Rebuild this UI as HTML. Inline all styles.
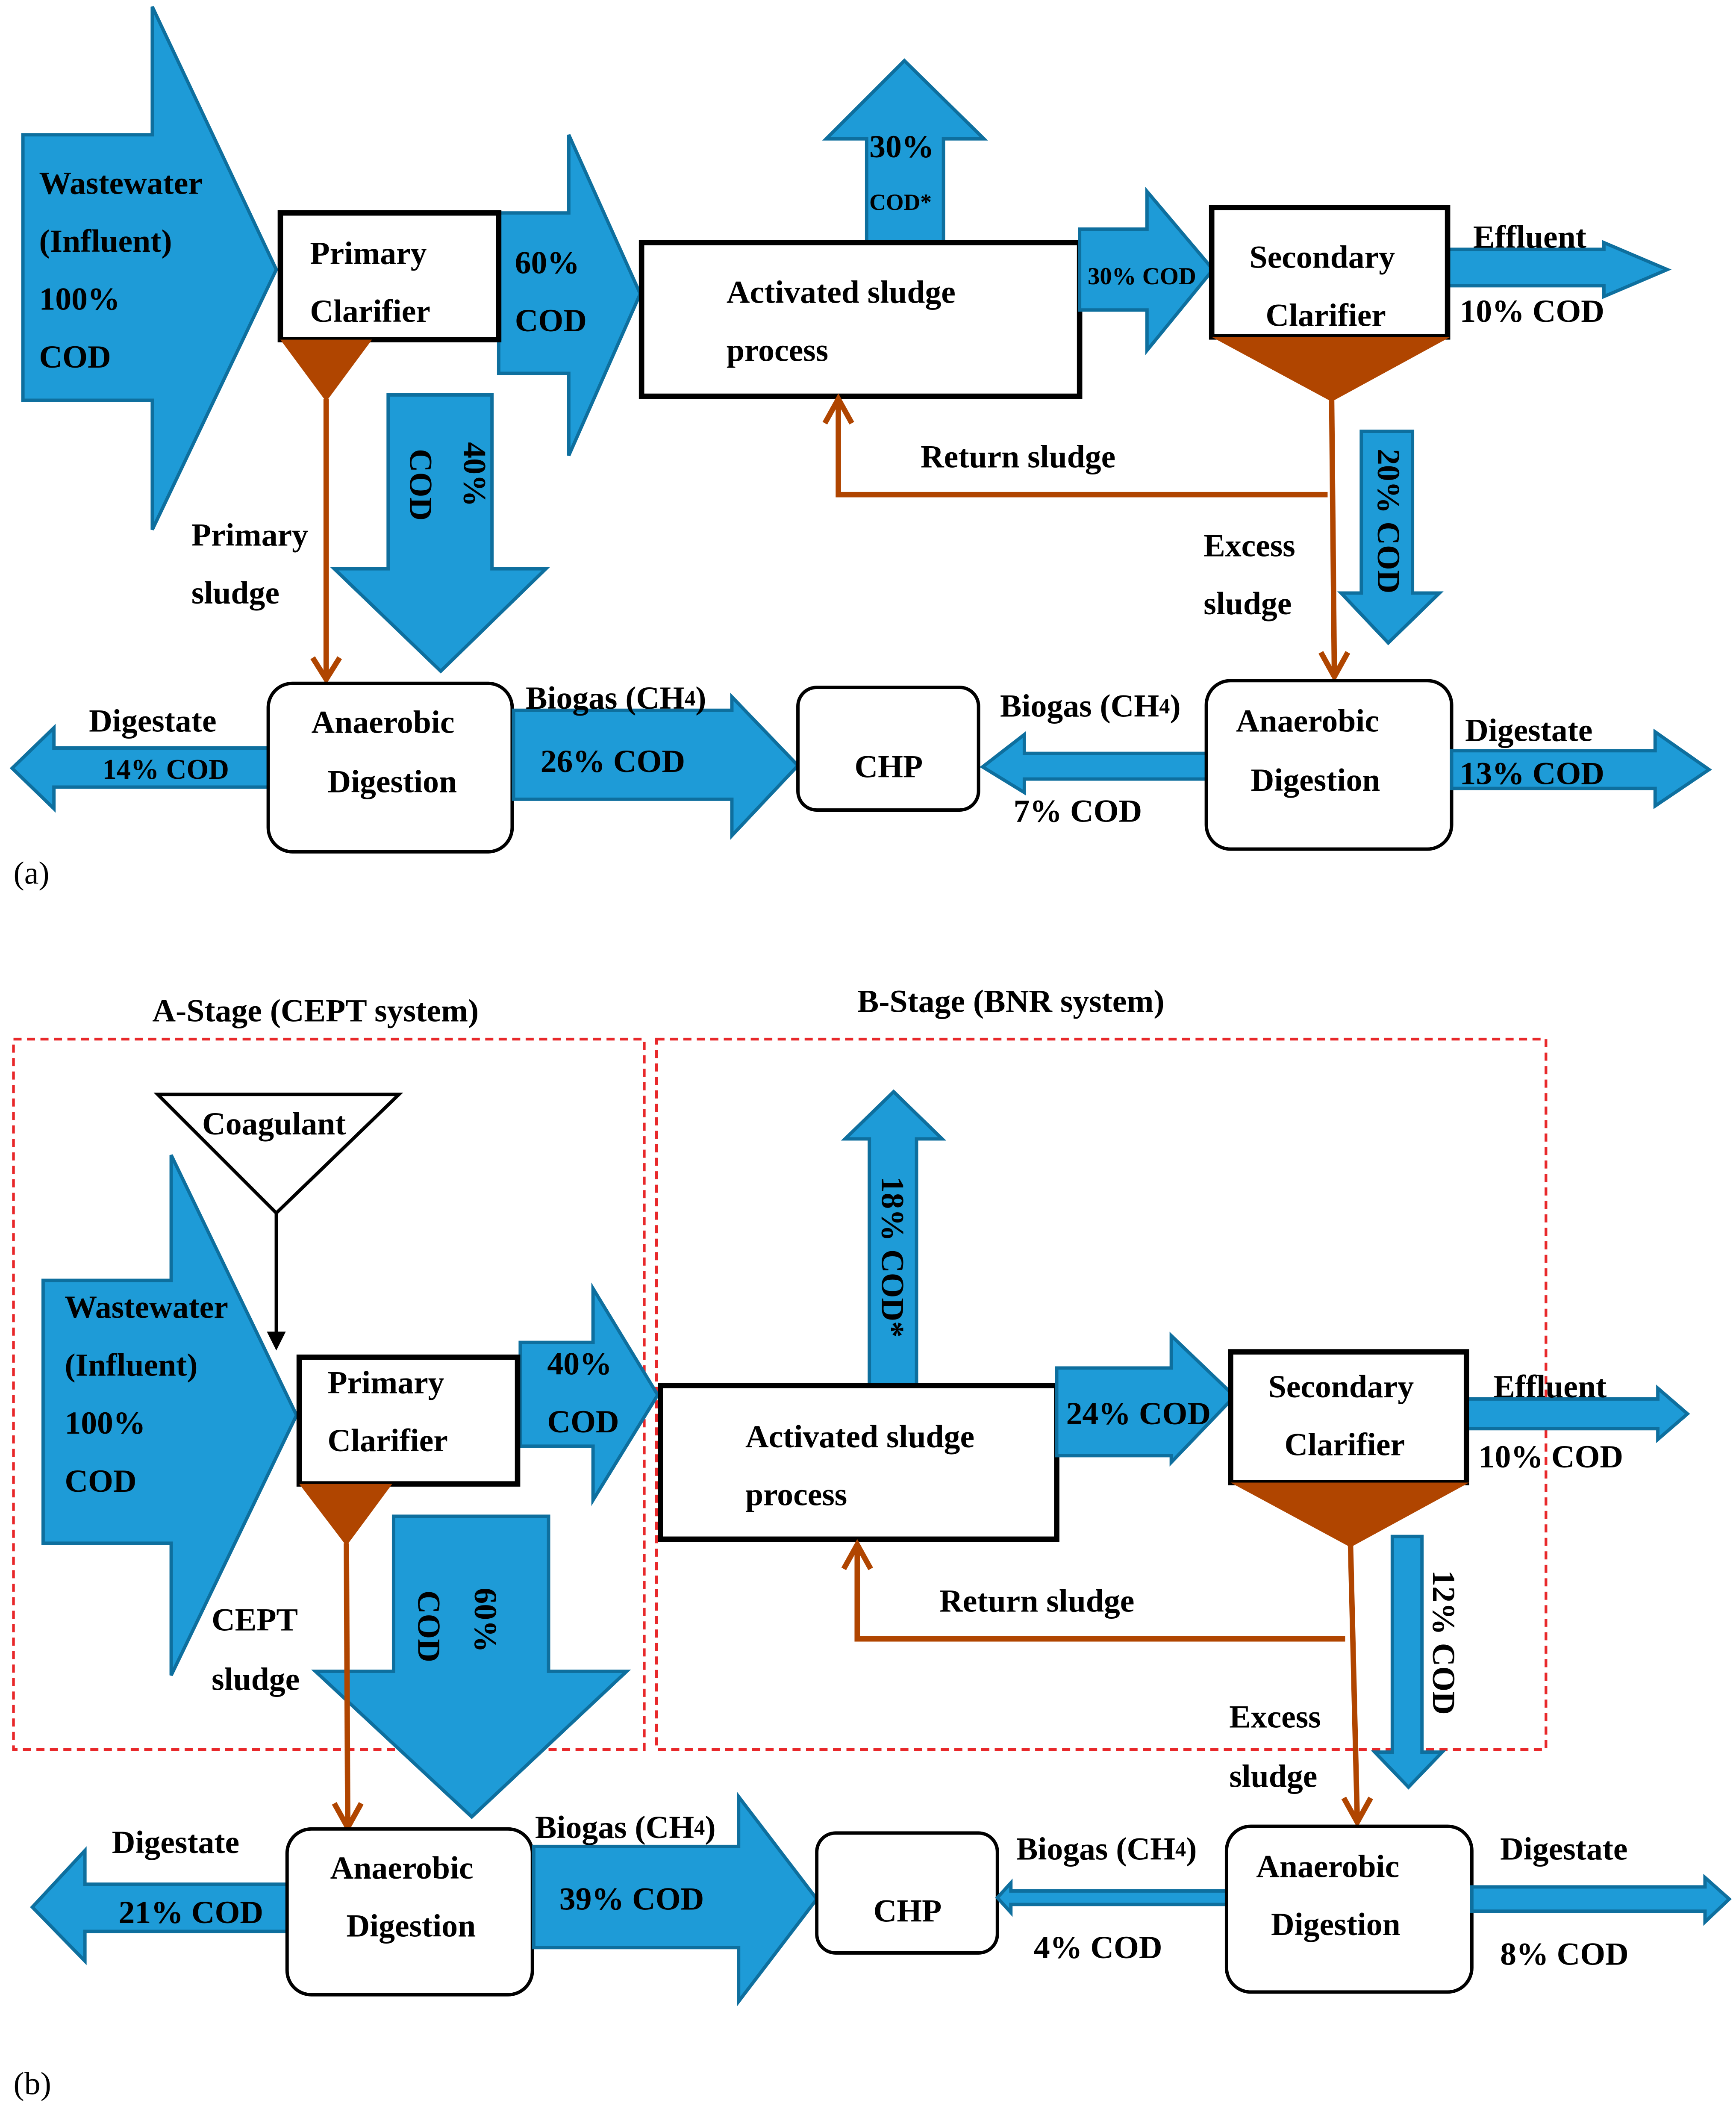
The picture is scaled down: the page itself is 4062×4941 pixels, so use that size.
<!DOCTYPE html>
<html><head><meta charset="utf-8"><style>
html,body{margin:0;padding:0;background:#fff}
svg{display:block}
text{font-family:"Liberation Serif",serif;font-size:24px;font-weight:bold;fill:#000;dominant-baseline:central}
.a{fill:#1e9bd7;stroke:#0e6f9e;stroke-width:2.5}
.b{stroke:#b04500;stroke-width:4;fill:none}
.bf{fill:#b04500}
.bx{fill:#fff;stroke:#000;stroke-width:4}
.rb{fill:#fff;stroke:#000;stroke-width:2.5}
.rd{fill:none;stroke:#e8282a;stroke-width:2;stroke-dasharray:6,4}
</style></head><body>
<svg width="4062" height="4941" viewBox="0 0 1288 1567" preserveAspectRatio="none" xmlns="http://www.w3.org/2000/svg">
<!-- ===== (a) ===== -->
<polygon class="a" points="17,100 113,100 113,5 205,200 113,393 113,297 17,297"/>
<text x="29" y="136">Wastewater</text><text x="29" y="179">(Influent)</text><text x="29" y="222">100%</text><text x="29" y="265">COD</text>
<polygon class="a" points="370,158 422,158 422,100 475,218 422,338 422,277 370,277"/>
<text x="382" y="195">60%</text><text x="382" y="238">COD</text>
<rect class="bx" x="208" y="158" width="162" height="94"/>
<text x="230" y="188">Primary</text><text x="230" y="231">Clarifier</text>
<polygon class="bf" points="208,252 276,252 242,298"/>
<polygon class="a" points="288,293 365,293 365,422 405,422 327,498 248,422 288,422"/>
<text transform="translate(312,333) rotate(90)">COD</text>
<text transform="translate(352,328) rotate(90)">40%</text>
<line class="b" x1="242" y1="296" x2="242" y2="502"/>
<polyline class="b" points="232,488 242,504 252,488"/>
<text x="142" y="397">Primary</text><text x="142" y="440">sludge</text>
<polygon class="a" points="643,180 643,103 613,103 671,45 730,103 700,103 700,180"/>
<text x="645" y="109">30%</text><text x="645" y="150" style="font-size:17px">COD*</text>
<rect class="bx" x="476" y="180" width="325" height="114"/>
<text x="539" y="217">Activated sludge</text><text x="539" y="260">process</text>
<polygon class="a" points="801,170 851,170 851,142 900,200 851,260 851,230 801,230"/>
<text x="807" y="205" style="font-size:18px">30% COD</text>
<polygon class="a" points="1074,185 1190,185 1190,180 1237,200 1190,220 1190,212 1074,212"/>
<text x="1093" y="176">Effluent</text><text x="1083" y="231">10% COD</text>
<rect class="bx" x="899" y="154" width="175" height="96"/>
<text x="927" y="191">Secondary</text><text x="939" y="234">Clarifier</text>
<polygon class="bf" points="899,250 1076,250 988,298"/>
<polygon class="a" points="1010,320 1048,320 1048,440 1068,440 1030,477 995,440 1010,440"/>
<text transform="translate(1030,333) rotate(90)">20% COD</text>
<line class="b" x1="988" y1="296" x2="990" y2="500"/>
<polyline class="b" points="980,484 990,502 1000,484"/>
<polyline class="b" points="985,367 622,367 622,298"/>
<polyline class="b" points="612,314 622,296 632,314"/>
<text x="683" y="339">Return sludge</text>
<text x="893" y="405">Excess</text><text x="893" y="448">sludge</text>
<polygon class="a" points="200,555 40,555 40,540 9,570 40,600 40,584 200,584"/>
<text x="66" y="535">Digestate</text><text x="76" y="571" style="font-size:21px">14% COD</text>
<rect class="rb" x="199" y="507" width="181" height="125" rx="18"/>
<text x="231" y="536">Anaerobic</text><text x="243" y="580">Digestion</text>
<polygon class="a" points="381,527 543,527 543,517 592,568 543,620 543,593 381,593"/>
<text x="390" y="518">Biogas (CH<tspan style="font-size:16px">4</tspan>)</text><text x="401" y="565">26% COD</text>
<rect class="rb" x="592" y="510" width="134" height="91" rx="14"/>
<text x="634" y="569">CHP</text>
<polygon class="a" points="898,559 760,559 760,545 729,569 760,588 760,578 898,578"/>
<text x="742" y="524">Biogas (CH<tspan style="font-size:16px">4</tspan>)</text><text x="752" y="602">7% COD</text>
<rect class="rb" x="895" y="505" width="182" height="125" rx="18"/>
<text x="917" y="535">Anaerobic</text><text x="928" y="579">Digestion</text>
<polygon class="a" points="1077,557 1228,557 1228,543 1268,571 1228,598 1228,585 1077,585"/>
<text x="1087" y="542">Digestate</text><text x="1083" y="574">13% COD</text>
<text x="10" y="648" style="font-weight:normal">(a)</text>

<!-- ===== (b) ===== -->
<text x="113" y="750">A-Stage (CEPT system)</text>
<text x="636" y="743">B-Stage (BNR system)</text>
<rect class="rd" x="10" y="771" width="468" height="527"/>
<rect class="rd" x="487" y="771" width="660" height="527"/>
<polygon class="a" points="32,950 127,950 127,857 220,1050 127,1243 127,1145 32,1145"/>
<text x="48" y="970">Wastewater</text><text x="48" y="1013">(Influent)</text><text x="48" y="1056">100%</text><text x="48" y="1099">COD</text>
<polygon fill="#fff" stroke="#000" stroke-width="2.5" points="117,812 296,812 205,900"/>
<text x="150" y="834">Coagulant</text>
<line x1="205" y1="900" x2="205" y2="992" stroke="#000" stroke-width="2.5"/>
<polygon points="198,988 212,988 205,1002" fill="#000"/>
<polygon class="a" points="386,996 440,996 440,956 488,1035 440,1113 440,1073 386,1073"/>
<text x="406" y="1012">40%</text><text x="406" y="1055">COD</text>
<rect class="bx" x="222" y="1007" width="162" height="94"/>
<text x="243" y="1026">Primary</text><text x="243" y="1069">Clarifier</text>
<polygon class="bf" points="222,1101 291,1101 257,1147"/>
<polygon class="a" points="292,1125 407,1125 407,1240 465,1240 350,1348 234,1240 292,1240"/>
<text transform="translate(318,1180) rotate(90)">COD</text>
<text transform="translate(360,1178) rotate(90)">60%</text>
<line class="b" x1="257" y1="1145" x2="258" y2="1354"/>
<polyline class="b" points="248,1338 258,1356 268,1338"/>
<text x="157" y="1202">CEPT</text><text x="157" y="1246">sludge</text>
<polygon class="a" points="645,1030 645,845 627,845 663,810 699,845 680,845 680,1030"/>
<text transform="translate(662,873) rotate(90)">18% COD*</text>
<rect class="bx" x="490" y="1028" width="294" height="114"/>
<text x="553" y="1066">Activated sludge</text><text x="553" y="1109">process</text>
<polygon class="a" points="784,1015 869,1015 869,991 916,1036 869,1085 869,1080 784,1080"/>
<text x="791" y="1049">24% COD</text>
<polygon class="a" points="1088,1038 1230,1038 1230,1030 1252,1049 1230,1068 1230,1060 1088,1060"/>
<text x="1108" y="1029">Effluent</text><text x="1097" y="1081">10% COD</text>
<rect class="bx" x="913" y="1003" width="175" height="97"/>
<text x="941" y="1029">Secondary</text><text x="953" y="1072">Clarifier</text>
<polygon class="bf" points="913,1100 1090,1100 1002,1148"/>
<polygon class="a" points="1033,1140 1055,1140 1055,1300 1070,1300 1045,1326 1020,1300 1033,1300"/>
<text transform="translate(1071,1165) rotate(90)">12% COD</text>
<line class="b" x1="1002" y1="1146" x2="1007" y2="1350"/>
<polyline class="b" points="997,1334 1007,1352 1017,1334"/>
<polyline class="b" points="998,1216 636,1216 636,1148"/>
<polyline class="b" points="626,1164 636,1146 646,1164"/>
<text x="697" y="1188">Return sludge</text>
<text x="912" y="1274">Excess</text><text x="912" y="1318">sludge</text>
<polygon class="a" points="213,1398 63,1398 63,1373 24,1415 63,1455 63,1433 213,1433"/>
<text x="83" y="1367">Digestate</text><text x="88" y="1419">21% COD</text>
<rect class="rb" x="213" y="1357" width="182" height="123" rx="18"/>
<text x="245" y="1386">Anaerobic</text><text x="257" y="1429">Digestion</text>
<polygon class="a" points="396,1370 548,1370 548,1333 606,1409 548,1485 548,1445 396,1445"/>
<text x="397" y="1356">Biogas (CH<tspan style="font-size:16px">4</tspan>)</text><text x="415" y="1409">39% COD</text>
<rect class="rb" x="606" y="1360" width="134" height="89" rx="14"/>
<text x="648" y="1418">CHP</text>
<polygon class="a" points="910,1403 750,1403 750,1397 740,1408 750,1419 750,1413 910,1413"/>
<text x="754" y="1372">Biogas (CH<tspan style="font-size:16px">4</tspan>)</text><text x="767" y="1445">4% COD</text>
<rect class="rb" x="910" y="1355" width="182" height="123" rx="18"/>
<text x="932" y="1385">Anaerobic</text><text x="943" y="1428">Digestion</text>
<polygon class="a" points="1092,1400 1265,1400 1265,1393 1283,1409 1265,1426 1265,1418 1092,1418"/>
<text x="1113" y="1372">Digestate</text><text x="1113" y="1450">8% COD</text>
<text x="10" y="1546" style="font-weight:normal">(b)</text>
</svg>
</body></html>
